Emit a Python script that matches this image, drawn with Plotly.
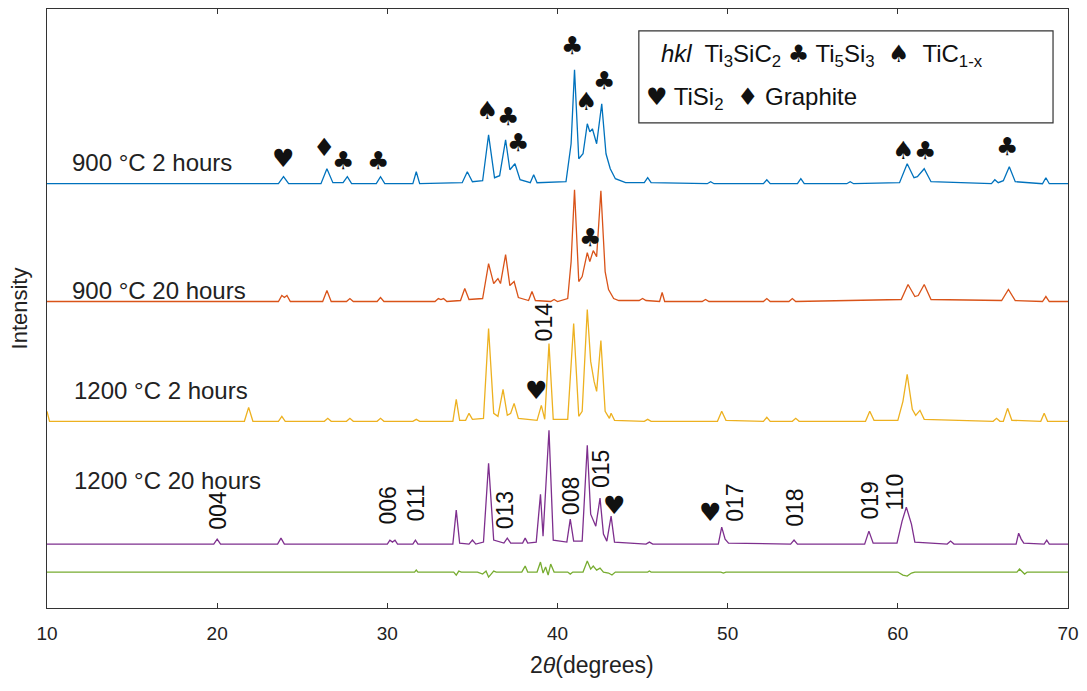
import plotly.graph_objects as go

# ---------------- data (2theta, intensity above each pattern's baseline) ----------------
offsets = {"900 °C 2 hours": 425, "900 °C 20 hours": 307, "1200 °C 2 hours": 187,
           "1200 °C 20 hours": 64, "difference": 36}

blue_x = [10, 23.6, 23.9, 24.2, 26.1, 26.45, 26.8, 27.4, 27.65, 27.9, 29.35, 29.6, 29.85,
          31.5, 31.7, 31.9, 34.4, 34.7, 35.0, 35.6, 35.95, 36.3, 36.6, 36.95, 37.2, 37.5, 37.8,
          38.4, 38.6, 38.8, 40.5, 40.8, 41.0, 41.25, 41.5, 41.75, 41.9, 42.05, 42.3, 42.6, 42.85,
          43.1, 43.4, 44.0, 45.1, 45.3, 45.5, 48.8, 49.0, 49.2, 52.1, 52.3, 52.5, 54.1, 54.3, 54.5,
          57.0, 57.2, 57.4, 60.1, 60.55, 60.95, 61.15, 61.55, 61.95, 65.5, 65.7, 65.9, 66.2, 66.55,
          66.9, 68.5, 68.7, 68.9, 70]
blue_y = [0, 0, 7, 0, 0, 15, 1, 1, 7, 0, 0, 7, 0,
          0, 12, 0, 1, 12, 2, 3, 49, 6, 8, 44, 14, 20, 4,
          1, 9, 1, 2, 40, 114, 25, 30, 60, 52, 55, 40, 80, 30,
          15, 5, 1, 1, 6, 1, 0, 2, 0, 0, 4, 0, 0, 5, 0,
          0, 2, 0, 1, 20, 6, 7, 15, 2, 0, 4, 1, 3, 17,
          2, 0, 6, 0, 0]

orange_x = [10, 23.6, 23.8, 23.95, 24.1, 24.3, 26.2, 26.45, 26.7, 27.6, 27.8, 28.0, 29.4, 29.6, 29.8,
            32.8, 33.0, 33.15, 33.3, 33.5, 34.3, 34.55, 34.8, 35.6, 35.95, 36.25, 36.5, 36.65, 36.95,
            37.2, 37.45, 37.7, 38.3, 38.5, 38.7, 39.6, 39.8, 40.0, 40.6, 40.8, 41.0, 41.25, 41.45,
            41.75, 41.9, 42.1, 42.3, 42.55, 42.8, 43.0, 43.3, 43.6, 44.8, 45.0, 45.2, 46.0, 46.15, 46.3,
            48.5, 48.7, 48.9, 52.1, 52.3, 52.5, 53.6, 53.8, 54.0, 60.2, 60.6, 61.0, 61.2, 61.55, 61.95,
            66.1, 66.5, 66.9, 68.5, 68.7, 68.9, 70]
orange_y = [0, 0, 6, 4, 6, 0, 0, 11, 0, 0, 3, 0, 0, 4, 0,
            0, 3, 2, 3, 0, 1, 13, 2, 3, 38, 18, 23, 18, 47,
            16, 20, 4, 1, 10, 1, 0, 2, 0, 3, 40, 112, 20, 25,
            49, 40, 51, 45, 111, 30, 12, 3, 1, 1, 3, 1, 0, 9, 0,
            0, 2, 0, 0, 3, 0, 0, 3, 0, 2, 17, 5, 6, 17, 2,
            1, 12, 1, 0, 5, 0, 0]

yellow_x = [10, 10.15, 21.6, 21.85, 22.1, 23.6, 23.8, 24.0, 26.3, 26.5, 26.7, 27.6, 27.8, 28.0,
            29.4, 29.6, 29.8, 31.5, 31.7, 31.9, 33.85, 34.05, 34.25, 34.6, 34.8, 35.0, 35.65, 35.95,
            36.25, 36.5, 36.8, 37.05, 37.25, 37.45, 37.7, 38.8, 39.05, 39.25, 39.5, 39.75, 40.6, 40.95,
            41.25, 41.45, 41.75, 41.95, 42.15, 42.3, 42.55, 42.8, 43.05, 43.15, 43.35, 45.1, 45.3, 45.5,
            49.4, 49.65, 49.9, 52.1, 52.3, 52.5, 53.8, 54.0, 54.2, 58.1, 58.35, 58.6, 60.0, 60.3, 60.55,
            60.85, 61.05, 61.3, 61.55, 65.6, 65.8, 66.0, 66.2, 66.45, 66.7, 68.4, 68.6, 68.8, 70]
yellow_y = [10, 0, 0, 14, 0, 0, 5, 0, 0, 3, 0, 0, 3, 0,
            0, 3, 0, 0, 2, 0, 0, 22, 1, 1, 8, 2, 3, 93,
            8, 5, 32, 6, 8, 18, 3, 1, 16, 2, 78, 2, 2, 98,
            5, 10, 112, 60, 40, 30, 81, 10, 3, 8, 1, 0, 2, 0,
            0, 10, 1, 0, 4, 0, 0, 3, 0, 0, 10, 1, 1, 20, 47,
            12, 6, 11, 2, 0, 3, 0, 0, 13, 1, 0, 8, 0, 0]

purple_x = [10, 19.8, 20.0, 20.2, 23.55, 23.75, 23.95, 30.0, 30.15, 30.3, 30.45, 30.6, 31.5, 31.65,
            31.8, 33.85, 34.05, 34.25, 34.8, 35.0, 35.2, 35.65, 35.95, 36.25, 36.85, 37.05, 37.25,
            37.95, 38.1, 38.25, 38.75, 39.0, 39.15, 39.5, 39.75, 40.55, 40.75, 40.95, 41.45, 41.75,
            41.95, 42.1, 42.25, 42.5, 42.7, 42.9, 43.15, 43.35, 45.2, 45.4, 45.6, 49.45, 49.65, 49.85,
            50.05, 53.7, 53.9, 54.1, 58.05, 58.3, 58.55, 59.95, 60.25, 60.5, 60.8, 61.0, 62.9, 63.1,
            63.3, 66.95, 67.1, 67.25, 67.4, 68.6, 68.75, 68.9, 70]
purple_y = [0, 0, 5, 0, 0, 6, 0, 0, 4, 2, 4, 0, 0, 4,
            0, 0, 34, 1, 0, 4, 0, 2, 81, 4, 1, 6, 1,
            1, 6, 1, 2, 50, 8, 114, 4, 2, 25, 3, 3, 99,
            30, 23, 18, 46, 10, 3, 28, 2, 0, 2, 0, 0, 17, 5,
            1, 0, 4, 0, 0, 13, 1, 1, 23, 37, 20, 2, 0, 3,
            0, 0, 11, 5, 1, 0, 4, 0, 0]

green_x = [10, 31.6, 31.7, 31.8, 33.9, 34.05, 34.2, 34.35, 35.3, 35.6, 35.8, 35.95, 36.1, 36.25, 36.4,
           37.9, 38.1, 38.25, 38.8, 39.0, 39.15, 39.3, 39.45, 39.6, 39.8, 40.6, 40.75, 40.9, 41.5,
           41.75, 41.95, 42.1, 42.3, 42.5, 42.7, 43.0, 43.2, 43.4, 45.3, 45.4, 45.5, 49.6, 49.75,
           49.9, 60.0, 60.3, 60.55, 60.8, 61.0, 67.0, 67.15, 67.3, 67.45, 67.6, 70]
green_y = [0, 0, 2, 0, 0, -3, 1, 0, 0, -2, 1, -5, -2, 1, 0,
           0, 6, 0, 0, 10, -1, 5, -3, 8, 0, 0, -2, 0, 0,
           11, 3, 6, 2, 4, 0, -1, -3, 0, 0, 1, 0, 0, -1,
           0, 0, -3, -4, -1, 0, 0, 3, 0, -2, 0, 0]

series = [("900 °C 2 hours", blue_x, blue_y, "#0072BD"),
          ("900 °C 20 hours", orange_x, orange_y, "#D95319"),
          ("1200 °C 2 hours", yellow_x, yellow_y, "#EDB120"),
          ("1200 °C 20 hours", purple_x, purple_y, "#7E2F8E"),
          ("difference", green_x, green_y, "#77AC30")]

# sample labels: (text, x, y)
sample_labels = [("900 °C 2 hours", 11.35, 446), ("900 °C 20 hours", 11.35, 318),
                 ("1200 °C 2 hours", 11.45, 218), ("1200 °C 20 hours", 11.45, 128)]

# phase symbols: (symbol, x, y)
symbols = [("♥", 23.84, 450), ("♦", 26.25, 461), ("♣", 27.42, 448), ("♣", 29.47, 448),
           ("♠", 35.87, 498), ("♣", 37.1, 492), ("♣", 37.68, 466), ("♣", 40.85, 563),
           ("♠", 41.67, 507), ("♣", 42.73, 528), ("♠", 60.32, 458), ("♣", 61.61, 458),
           ("♣", 66.42, 462), ("♣", 41.9, 371), ("♥", 38.74, 218),
           ("♥", 43.32, 103), ("♥", 48.99, 96)]

# hkl labels (rotated)
hkl_labels = [("014", 39.26, 287), ("004", 20.03, 98), ("006", 30.06, 103), ("011", 31.7, 105),
              ("013", 36.92, 98), ("008", 40.79, 112), ("015", 42.55, 139), ("017", 50.47, 105),
              ("018", 53.99, 100), ("019", 58.39, 108), ("110", 59.85, 116)]

x_ticks = [10, 20, 30, 40, 50, 60, 70]

FONT = "Arial, Liberation Sans, sans-serif"
SYM = '<span style="font-family:DejaVu Sans;font-size:24px">{}</span>'

fig = go.Figure()
for name, xs, ys, col in series:
    off = offsets[name]
    fig.add_trace(go.Scatter(x=xs, y=[off + v for v in ys], mode="lines",
                             line=dict(color=col, width=1.3), name=name, showlegend=False))

annotations = []
for t, x, y in sample_labels:
    annotations.append(dict(x=x, y=y, text=t, showarrow=False, xanchor="left", yanchor="middle",
                            font=dict(family=FONT, size=24, color="#222")))
for t, x, y in symbols:
    annotations.append(dict(x=x, y=y, text=t, showarrow=False, xanchor="center", yanchor="middle",
                            font=dict(family="DejaVu Sans", size=25, color="#111")))
for t, x, y in hkl_labels:
    annotations.append(dict(x=x, y=y, text=t, showarrow=False, textangle=-90,
                            xanchor="center", yanchor="middle",
                            font=dict(family=FONT, size=23, color="#111")))

# legend box text
annotations.append(dict(x=45.95, y=553, xanchor="left", yanchor="middle", showarrow=False,
                        text="<i>hkl</i>  Ti<sub>3</sub>SiC<sub>2</sub> " + SYM.format("♣")
                             + " Ti<sub>5</sub>Si<sub>3</sub>  " + SYM.format("♠")
                             + "  TiC<sub>1-x</sub>",
                        font=dict(family=FONT, size=24, color="#111")))
annotations.append(dict(x=45.1, y=510, xanchor="left", yanchor="middle", showarrow=False,
                        text=SYM.format("♥") + " TiSi<sub>2</sub>  " + SYM.format("♦") + " Graphite",
                        font=dict(family=FONT, size=24, color="#111")))

# x-axis title placed as in the reference
annotations.append(dict(x=0.534, y=-0.095, xref="paper", yref="paper", xanchor="center",
                        yanchor="middle", showarrow=False, text="2<i>θ</i>(degrees)",
                        font=dict(family=FONT, size=23, color="#222")))

fig.update_layout(
    width=1087, height=691,
    margin=dict(l=47, r=17, t=8, b=83),
    paper_bgcolor="white", plot_bgcolor="white",
    annotations=annotations,
    shapes=[dict(type="rect", x0=44.78, x1=69.12, y0=486, y1=578, xref="x", yref="y",
                 line=dict(color="#333", width=1.2), fillcolor="white", layer="below")],
    xaxis=dict(range=[10, 70], tickvals=x_ticks, ticktext=[str(v) for v in x_ticks],
               ticks="inside", ticklen=5, tickcolor="#333", showgrid=False, zeroline=False,
               showline=True, linecolor="#333", linewidth=1, mirror="ticks",
               ticklabelstandoff=8,
               tickfont=dict(family=FONT, size=19, color="#222")),
    yaxis=dict(range=[0, 600], showticklabels=False, ticks="", showgrid=False, zeroline=False,
               showline=True, linecolor="#333", linewidth=1, mirror=True,
               title=dict(text="Intensity", font=dict(family=FONT, size=22, color="#222"),
                          standoff=12)),
)

fig.write_html("out.html")
